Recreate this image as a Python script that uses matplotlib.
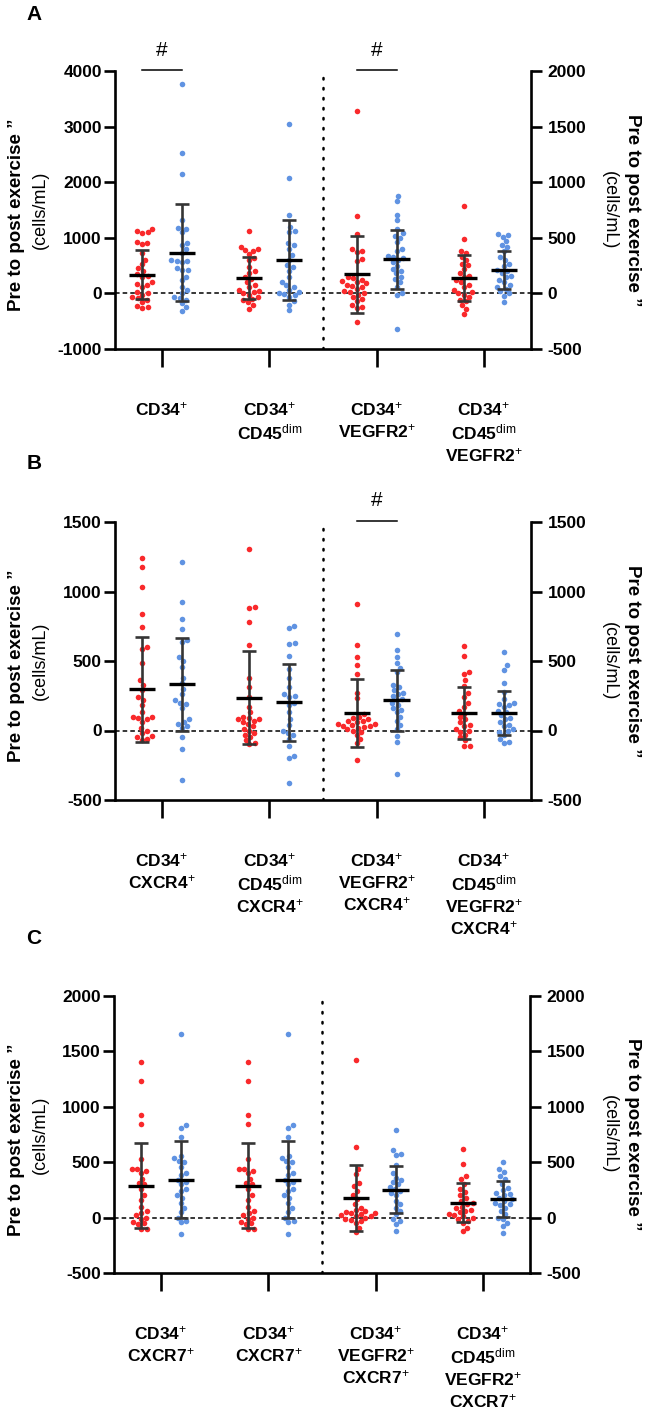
import numpy as np
import matplotlib
matplotlib.use('Agg')
import matplotlib.pyplot as plt

plt.rcParams['font.family'] = ['Liberation Sans', 'DejaVu Sans']
plt.rcParams['mathtext.fontset'] = 'custom'
plt.rcParams['mathtext.rm'] = 'Liberation Sans'
plt.rcParams['mathtext.it'] = 'Liberation Sans:italic'
plt.rcParams['mathtext.bf'] = 'Liberation Sans:bold'

RED = '#f9292b'
BLUE = '#6093e2'

# ---------------- panel A ----------------
labels_a = ['CD34$^{+}$', 'CD34$^{+}$\nCD45$^{\\rm dim}$',
            'CD34$^{+}$\nVEGFR2$^{+}$', 'CD34$^{+}$\nCD45$^{\\rm dim}$\nVEGFR2$^{+}$']
a1_red = [1150, 1120, 1100, 1090, 920, 910, 880, 720, 600, 520, 450, 400, 340, 320, 300,
          200, 170, 150, 120, 20, 0, -20, -60, -90, -110, -150, -220, -250, -260]
a1_blue = [3766, 2517, 2156, 1315, 1177, 1165, 1100, 907, 877, 800, 727, 600, 590, 580, 560,
           450, 426, 414, 300, 234, 114, 54, 12, -66, -84, -126, -180, -246, -318]
a2_red = [1123, 835, 800, 780, 760, 700, 640, 600, 474, 400, 370, 300, 260, 204, 150, 114,
          60, 40, 20, 0, -20, -60, -96, -120, -156, -200, -276]
a2_blue = [3045, 2084, 1405, 1200, 1123, 1100, 907, 865, 800, 685, 600, 505, 480, 400, 294,
           200, 144, 120, 60, 20, 0, -10, -30, -60, -138, -200, -306]
a3_red = [1640, 694, 532, 400, 380, 370, 310, 290, 150, 140, 120, 110, 100, 90, 80, 70, 60,
          40, 20, 10, 0, -10, -30, -50, -70, -100, -120, -130, -258]
a3_blue = [877, 829, 709, 658, 580, 540, 520, 500, 460, 400, 380, 340, 320, 330, 300, 280,
           250, 220, 200, 180, 150, 130, 100, 60, 0, -10, -318]
a4_red = [787, 486, 380, 363, 330, 300, 267, 252, 220, 180, 160, 147, 120, 100, 80, 57, 30,
          10, 0, -10, -33, -60, -70, -108, -138, -183]
a4_blue = [532, 525, 508, 470, 438, 420, 380, 327, 300, 260, 250, 210, 200, 180, 160, 147,
           120, 100, 72, 60, 40, 20, 0, -20, -78]
a_mean_red = [334, 280, 171, 135]
a_sd_red = [442, 376, 345, 207]
a_mean_blue = [733, 600, 306, 212]
a_sd_blue = [871, 727, 268, 170]

# ---------------- panel B ----------------
labels_b = ['CD34$^{+}$\nCXCR4$^{+}$', 'CD34$^{+}$\nCD45$^{\\rm dim}$\nCXCR4$^{+}$',
            'CD34$^{+}$\nVEGFR2$^{+}$\nCXCR4$^{+}$',
            'CD34$^{+}$\nCD45$^{\\rm dim}$\nVEGFR2$^{+}$\nCXCR4$^{+}$']
b1_red = [1243, 1178, 1030, 838, 742, 600, 588, 489, 364, 330, 290, 240, 220, 180, 130, 100,
          100, 90, 80, 60, 20, 0, -20, -40, -50, -60, -70]
b1_blue = [1209, 924, 800, 728, 650, 640, 530, 500, 460, 380, 340, 300, 260, 220, 200, 190,
           160, 80, 60, 50, 30, 20, -50, -134, -354]
b2_red = [1305, 890, 880, 780, 613, 376, 316, 240, 170, 130, 100, 90, 80, 80, 70, 60, 50,
          30, 10, 0, -20, -30, -50, -70, -90, -100]
b2_blue = [752, 735, 627, 620, 536, 440, 376, 316, 260, 250, 240, 200, 180, 130, 80, 40, 0,
           -20, -30, -60, -115, -180, -200, -378]
b3_red = [910, 615, 527, 472, 405, 273, 232, 120, 100, 90, 80, 70, 65, 60, 50, 45, 40, 35,
          30, 25, 20, 10, 0, -10, -30, -60, -90, -215]
b3_blue = [695, 580, 532, 489, 450, 420, 330, 310, 290, 270, 260, 245, 230, 220, 200, 180,
           160, 150, 130, 100, 70, 40, 10, -40, -80, -311]
b4_red = [608, 536, 420, 410, 360, 321, 270, 240, 200, 170, 140, 120, 100, 80, 60, 40, 30,
          10, 0, -10, -30, -50, -70, -110, -110]
b4_blue = [563, 470, 436, 340, 280, 230, 200, 190, 180, 170, 140, 130, 110, 90, 80, 60, 40,
           30, 10, 0, -10, -30, -60, -80, -91]
b_mean_red = [295, 237, 125, 127]
b_sd_red = [379, 333, 245, 187]
b_mean_blue = [331, 205, 216, 128]
b_sd_blue = [338, 277, 216, 159]

# ---------------- panel C ----------------
labels_c = ['CD34$^{+}$\nCXCR7$^{+}$', 'CD34$^{+}$\nCXCR7$^{+}$',
            'CD34$^{+}$\nVEGFR2$^{+}$\nCXCR7$^{+}$',
            'CD34$^{+}$\nCD45$^{\\rm dim}$\nVEGFR2$^{+}$\nCXCR7$^{+}$']
c1_red = [1408, 1234, 925, 844, 526, 440, 436, 420, 400, 350, 310, 300, 260, 200, 160, 100,
          60, 40, 20, 0, -10, -40, -50, -60, -100, -105]
c1_blue = [1661, 832, 811, 727, 555, 540, 510, 500, 460, 400, 380, 340, 320, 300, 260, 240,
           200, 180, 130, 90, 50, 0, -30, -40, -150]
c2_red = [1408, 1234, 925, 844, 526, 440, 436, 420, 400, 350, 310, 300, 260, 200, 160, 100,
          60, 40, 20, 0, -10, -40, -50, -60, -100, -105]
c2_blue = [1661, 832, 811, 727, 555, 540, 510, 500, 460, 400, 380, 340, 320, 300, 260, 240,
           200, 180, 130, 90, 50, 0, -30, -40, -150]
c3_red = [1426, 640, 435, 390, 315, 285, 240, 200, 165, 120, 90, 70, 60, 50, 45, 40, 30, 20,
          15, 10, 0, -10, -20, -30, -45, -90, -129]
c3_blue = [793, 610, 571, 565, 471, 400, 360, 340, 320, 300, 280, 260, 240, 220, 200, 150,
           120, 90, 60, 30, -15, -30, -60, -120]
c4_red = [616, 483, 375, 345, 300, 260, 230, 200, 180, 150, 130, 120, 100, 90, 70, 60, 50,
          30, 20, 10, 0, -15, -30, -45, -90, -120]
c4_blue = [505, 440, 411, 375, 345, 300, 270, 250, 225, 210, 200, 180, 165, 150, 135, 120,
           110, 90, 60, 30, 0, -15, -45, -75, -135]
c_mean_red = [289, 289, 177, 135]
c_sd_red = [382, 382, 300, 177]
c_mean_blue = [343, 343, 252, 170]
c_sd_blue = [349, 349, 213, 161]

W, H = 646, 1416
fig = plt.figure(figsize=(W / 100, H / 100), dpi=100)

OFF = 0.186


def swarm_x(ax_y, center, vals, diam=5.6):
    trans = ax_y.transData
    pts = trans.transform(np.column_stack([np.full(len(vals), center), vals]))
    cx = pts[0, 0]
    ys = pts[:, 1]
    xs = np.zeros(len(vals))
    placed = []
    for i in np.argsort(ys):
        y = ys[i]
        near = [(px, py) for px, py in placed if abs(py - y) < diam]
        cands = [0.0]
        for px, py in near:
            dx = np.sqrt(diam ** 2 - (py - y) ** 2)
            cands += [px + dx, px - dx]
        cands.sort(key=abs)
        for c in cands:
            if all((c - px) ** 2 + (y - py) ** 2 >= diam ** 2 - 1e-6 for px, py in near):
                xs[i] = c
                placed.append((c, y))
                break
    out = trans.inverted().transform(np.column_stack([cx + xs, ys]))
    return out[:, 0]


def draw_group(axy, pos, vals, mean, sd, color):
    x = swarm_x(axy, pos, vals)
    axy.scatter(x, vals, s=16, color=color, linewidths=0, zorder=3, clip_on=False)
    axy.errorbar(pos, mean, yerr=sd, fmt='none', ecolor='#353535', elinewidth=1.9,
                 capsize=4.7, capthick=1.9, zorder=4)
    axy.plot([pos - 0.122, pos + 0.122], [mean, mean], color='black', lw=2.4,
             zorder=5, solid_capstyle='butt')


def panel(top, bottom, left, right, ylim_l, yticks_l, ylim_r, yticks_r, labels,
          reds, blues, mean_r, sd_r, mean_b, sd_b, letter, letter_y, sig):
    ax = fig.add_axes([left / W, 1 - bottom / H, (right - left) / W, (bottom - top) / H])
    ax2 = ax.twinx()
    ax.set_xlim(-0.438, 3.439)
    ax.set_ylim(*ylim_l)
    ax2.set_ylim(*ylim_r)
    for s in ['top', 'right']:
        ax.spines[s].set_visible(False)
    for s in ['top', 'left', 'bottom']:
        ax2.spines[s].set_visible(False)
    for a in (ax, ax2):
        for s in a.spines.values():
            s.set_linewidth(1.9)
    ax.set_yticks(yticks_l)
    ax.set_yticklabels([str(t) for t in yticks_l], fontweight='bold', fontsize=12.5)
    ax2.set_yticks(yticks_r)
    ax2.set_yticklabels([str(t) for t in yticks_r], fontweight='bold', fontsize=12.5)
    ax.tick_params(axis='y', length=8, width=1.9, pad=1.5)
    ax2.tick_params(axis='y', length=8, width=1.9, pad=4)
    ax.set_xticks(range(4))
    ax.set_xticklabels(labels, fontweight='bold', fontsize=12.5, linespacing=1.25)
    ax.tick_params(axis='x', length=13, width=1.9, pad=24)

    ax.axhline(0, color='black', lw=1.1, ls=(0, (3, 2)), zorder=2)
    ax.axvline(1.5, color='black', lw=1.8, ls=(0, (0.6, 3.4)), dash_capstyle='round',
               zorder=2)

    for k in range(4):
        axy = ax if k < 2 else ax2
        draw_group(axy, k - OFF, reds[k], mean_r[k], sd_r[k], RED)
        draw_group(axy, k + OFF, blues[k], mean_b[k], sd_b[k], BLUE)

    # significance marks
    ytop = ylim_l[1]
    span = ylim_l[1] - ylim_l[0]
    px = span / (bottom - top)
    for k in sig:
        ax.plot([k - OFF, k + OFF], [ytop + 1.5 * px, ytop + 1.5 * px], color='black',
                lw=1.1, clip_on=False)
        ax.text(k, ytop + 21 * px, '#', ha='center', va='center', fontsize=15,
                fontweight='normal')

    yc = 1 - ((top + bottom) / 2) / H
    fig.text(17 / W, yc - 5 / H, 'Pre to post exercise ”', rotation=90, ha='center',
             va='center', fontweight='bold', fontsize=13.5)
    fig.text(40 / W, yc, '(cells/mL)', rotation=90, ha='center', va='center',
             fontsize=13)
    fig.text(633 / W, yc, 'Pre to post exercise ”', rotation=270, ha='center',
             va='center', fontweight='bold', fontsize=13.5)
    fig.text(609 / W, yc, '(cells/mL)', rotation=270, ha='center', va='center',
             fontsize=13)
    fig.text(34 / W, 1 - letter_y / H, letter, ha='center', va='center',
             fontweight='bold', fontsize=15)


panel(71, 349, 115, 531, (-1000, 4000), [-1000, 0, 1000, 2000, 3000, 4000],
      (-500, 2000), [-500, 0, 500, 1000, 1500, 2000], labels_a,
      [a1_red, a2_red, a3_red, a4_red], [a1_blue, a2_blue, a3_blue, a4_blue],
      a_mean_red, a_sd_red, a_mean_blue, a_sd_blue, 'A', 15, [0, 2])

panel(522, 800, 115, 531, (-500, 1500), [-500, 0, 500, 1000, 1500],
      (-500, 1500), [-500, 0, 500, 1000, 1500], labels_b,
      [b1_red, b2_red, b3_red, b4_red], [b1_blue, b2_blue, b3_blue, b4_blue],
      b_mean_red, b_sd_red, b_mean_blue, b_sd_blue, 'B', 463, [2])

panel(996, 1273, 114, 530, (-500, 2000), [-500, 0, 500, 1000, 1500, 2000],
      (-500, 2000), [-500, 0, 500, 1000, 1500, 2000], labels_c,
      [c1_red, c2_red, c3_red, c4_red], [c1_blue, c2_blue, c3_blue, c4_blue],
      c_mean_red, c_sd_red, c_mean_blue, c_sd_blue, 'C', 938, [])

fig.savefig('out.png', dpi=100)
